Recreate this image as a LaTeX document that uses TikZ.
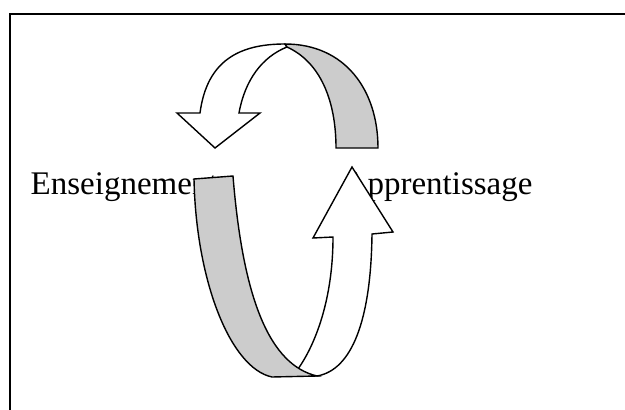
\documentclass[tikz,border=0pt]{standalone}
\usepackage{fontspec}
\setmainfont{Liberation Serif}
\definecolor{bandgray}{RGB}{204,204,204}
\begin{document}
\begin{tikzpicture}[x=1pt,y=-1pt,
  face/.style={draw=black, line width=1.4pt, line join=miter},
  label/.style={anchor=base west, inner sep=0pt, font=\fontsize{33}{40}\selectfont},
  frameline/.style={draw=black, line width=2pt}]
\useasboundingbox (0,0) rectangle (625,410);
% frame
\coordinate (fbl) at (10,410);
\coordinate (ftl) at (10,14.3);
\coordinate (ftr) at (625,14.3);
\draw[frameline] (fbl) -- (ftl) -- (ftr);
% texts
\node[label] (ens) at (30.5,194.5) {Enseignement};
\node[label] (app) at (343.5,194.5) {Apprentissage};
% top curved arrow: white front face
\filldraw[face, fill=white] (177,113) -- (200,113)
  .. controls (207,60) and (240,44) .. (285,44) -- (287,47)
  .. controls (262,57) and (245,80) .. (239,113)
  -- (260,113) -- (215,148) -- cycle;
% top curved arrow: grey back face
\filldraw[face, fill=bandgray] (285,44)
  .. controls (345,44) and (378,90) .. (378,148)
  -- (336,148)
  .. controls (336,100) and (320,62) .. (287,47) -- cycle;
% bottom curved arrow: white front face
\filldraw[face, fill=white] (333,237) -- (313,238) -- (352,167) -- (393,232) -- (372,234)
  .. controls (371,320) and (352,370) .. (317,376)
  -- (295,374) -- (298,369)
  .. controls (315,345) and (333,300) .. (333,237) -- cycle;
% bottom curved arrow: grey back face
\filldraw[face, fill=bandgray] (194,179) -- (233,176)
  .. controls (243,300) and (270,365) .. (317,376)
  -- (272,377)
  .. controls (230,368) and (196,280) .. (194,179) -- cycle;
\end{tikzpicture}
\end{document}
